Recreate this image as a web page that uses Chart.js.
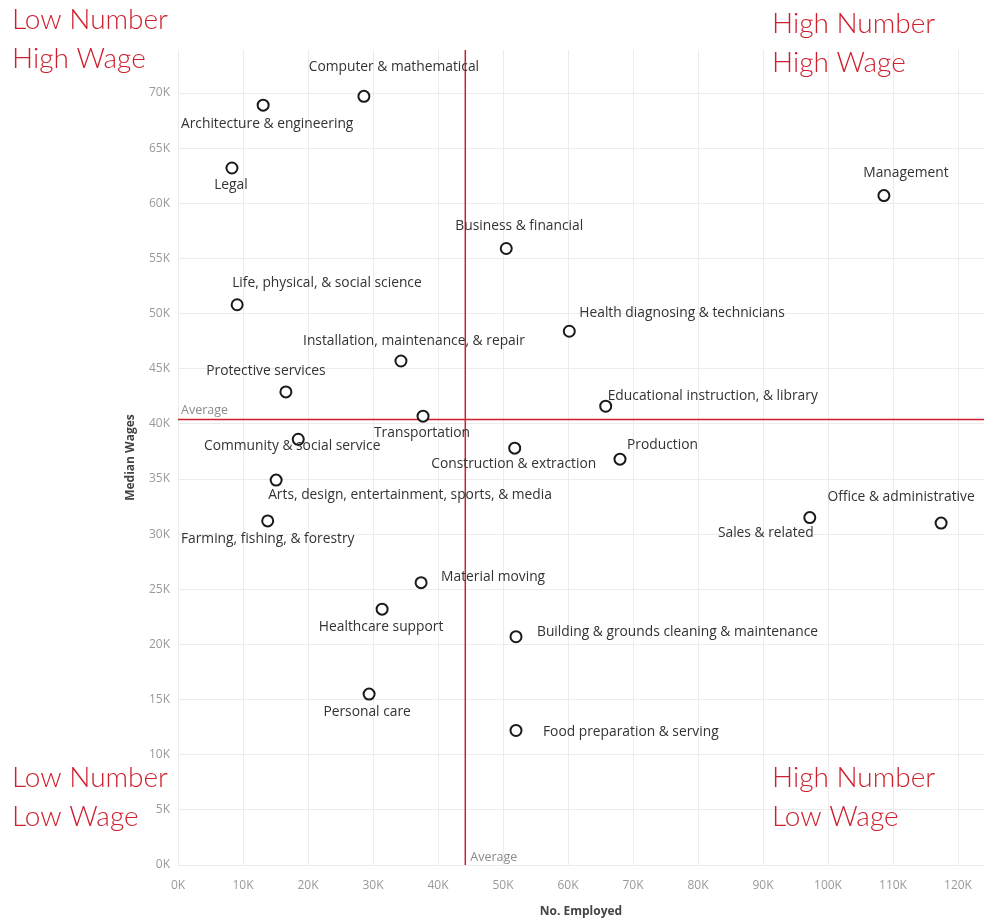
<!DOCTYPE html>
<html>
<head>
<meta charset="utf-8">
<script src="https://cdn.jsdelivr.net/npm/chart.js@4.4.1/dist/chart.umd.min.js"></script>
<style>
html,body{margin:0;padding:0;background:#fff;}
#wrap{position:relative;width:992px;height:923px;}
canvas{display:block;}
</style>
</head>
<body>
<div id="wrap"><canvas id="c" width="992" height="923"></canvas></div>
<script>
// ---- data ----
const occupations = [
  "Architecture & engineering","Computer & mathematical","Legal","Management",
  "Business & financial","Life, physical, & social science","Health diagnosing & technicians",
  "Installation, maintenance, & repair","Protective services","Educational instruction, & library",
  "Transportation","Community & social service","Construction & extraction","Production",
  "Arts, design, entertainment, sports, & media","Farming, fishing, & forestry","Sales & related",
  "Office & administrative","Material moving","Healthcare support",
  "Building & grounds cleaning & maintenance","Personal care","Food preparation & serving"
];
const numEmployed = [13100,28600,8300,108600,50500,9100,60200,34300,16600,65800,37700,18500,51800,68000,15100,13800,97200,117400,37400,31400,52000,29400,52000];
const medianWages = [68900,69700,63200,60700,55900,50800,48400,45700,42900,41600,40700,38600,37800,36800,34900,31200,31500,31000,25600,23200,20700,15500,12200];
const avgEmployed = 44200;
const avgWage = 40400;
const xTicks = [0,10000,20000,30000,40000,50000,60000,70000,80000,90000,100000,110000,120000];
const yTicks = [0,5000,10000,15000,20000,25000,30000,35000,40000,45000,50000,55000,60000,65000,70000];
const quadrantTexts = [["Low Number","High Wage"],["High Number","High Wage"],["Low Number","Low Wage"],["High Number","Low Wage"]];

// ---- label placement (style: alignment and pixel offset from the point) ----
const labelPlacement = [
  ["center",4,19],["center",30,-29],["center",-1,17],["center",22,-23],
  ["center",13,-22],["left",-5,-22],["left",10,-18],
  ["center",13,-20],["center",-20,-21],["left",2,-10],
  ["center",-1,17],["center",-6,7],["center",-1,16],["left",7,-14],
  ["left",-8,15],["center",0,18],["right",4,15],
  ["center",-40,-26],["left",20,-6],["center",-1,18],
  ["left",21,-5],["center",-2,18],["left",27,2]
];

const RED = "#cf1f2e";
const kfmt = v => (v/1000) + "K";

const overlay = {
  id: "overlay",
  beforeDatasetsDraw(chart) {
    const {ctx, chartArea:a, scales:{x,y}} = chart;
    ctx.save();
    ctx.strokeStyle = RED;
    ctx.lineWidth = 1.5;
    const ay = y.getPixelForValue(avgWage);
    const ax = x.getPixelForValue(avgEmployed);
    ctx.beginPath(); ctx.moveTo(a.left, ay); ctx.lineTo(a.right, ay); ctx.stroke();
    ctx.beginPath(); ctx.moveTo(ax, a.top); ctx.lineTo(ax, a.bottom); ctx.stroke();
    ctx.fillStyle = "#8a8a8a";
    ctx.font = "12.5px 'Open Sans'";
    ctx.textBaseline = "bottom";
    ctx.textAlign = "left";
    ctx.fillText("Average", a.left + 3, ay - 3);
    ctx.fillText("Average", ax + 5, a.bottom - 1);
    ctx.restore();
  },
  afterDatasetsDraw(chart) {
    const {ctx, chartArea:a, scales:{x,y}} = chart;
    ctx.save();
    ctx.fillStyle = "#333";
    ctx.font = "13.8px 'Open Sans'";
    ctx.textBaseline = "middle";
    occupations.forEach((name, i) => {
      const px = x.getPixelForValue(numEmployed[i]);
      const py = y.getPixelForValue(medianWages[i]);
      const [al, dx, dy] = labelPlacement[i];
      ctx.textAlign = al;
      ctx.fillText(name, px + dx, py + dy);
    });
    // quadrant captions
    ctx.fillStyle = RED;
    ctx.font = "300 28px Lato";
    ctx.textAlign = "left";
    ctx.textBaseline = "alphabetic";
    const pos = [[12,29],[772,33],[12,787],[772,787]];
    quadrantTexts.forEach((t, i) => {
      ctx.fillText(t[0], pos[i][0], pos[i][1]);
      ctx.fillText(t[1], pos[i][0], pos[i][1] + 39);
    });
    ctx.restore();
  }
};

function keepTicks(list) {
  return function(scale) { scale.ticks = list.map(v => ({value: v})); };
}

new Chart(document.getElementById("c"), {
  type: "scatter",
  data: {
    datasets: [{
      data: numEmployed.map((v, i) => ({x: v, y: medianWages[i]})),
      pointRadius: 5.5,
      pointHoverRadius: 5.5,
      pointBorderWidth: 2,
      pointBorderColor: "#1a1a1a",
      pointBackgroundColor: "#ffffff"
    }]
  },
  options: {
    responsive: false,
    animation: false,
    events: [],
    layout: {padding: {left: 120, top: 50, right: 8, bottom: 0}},
    plugins: {legend: {display: false}, tooltip: {enabled: false}},
    scales: {
      x: {
        type: "linear", min: 0, max: 124000,
        afterBuildTicks: keepTicks(xTicks),
        afterFit(s) { s.height = 58; },
        grid: {color: "#ececec", drawTicks: false},
        border: {display: false},
        ticks: {color: "#999", font: {size: 12, family: "'Open Sans'"}, padding: 13, callback: kfmt, maxRotation: 0, autoSkip: false},
        title: {display: true, text: "No. Employed", color: "#444", font: {size: 12, weight: "bold", family: "'Open Sans'"}, padding: {top: 0, bottom: 4}}
      },
      y: {
        type: "linear", min: 0, max: 73900,
        afterBuildTicks: keepTicks(yTicks),
        afterFit(s) { s.width = 58; },
        grid: {color: "#ececec", drawTicks: false},
        border: {display: false},
        ticks: {color: "#999", font: {size: 12, family: "'Open Sans'"}, padding: 8, callback: kfmt, autoSkip: false},
        title: {display: true, text: "Median Wages", color: "#444", font: {size: 12, weight: "bold", family: "'Open Sans'"}, padding: {top: 3, bottom: 0}}
      }
    }
  },
  plugins: [overlay]
});
</script>
</body>
</html>
